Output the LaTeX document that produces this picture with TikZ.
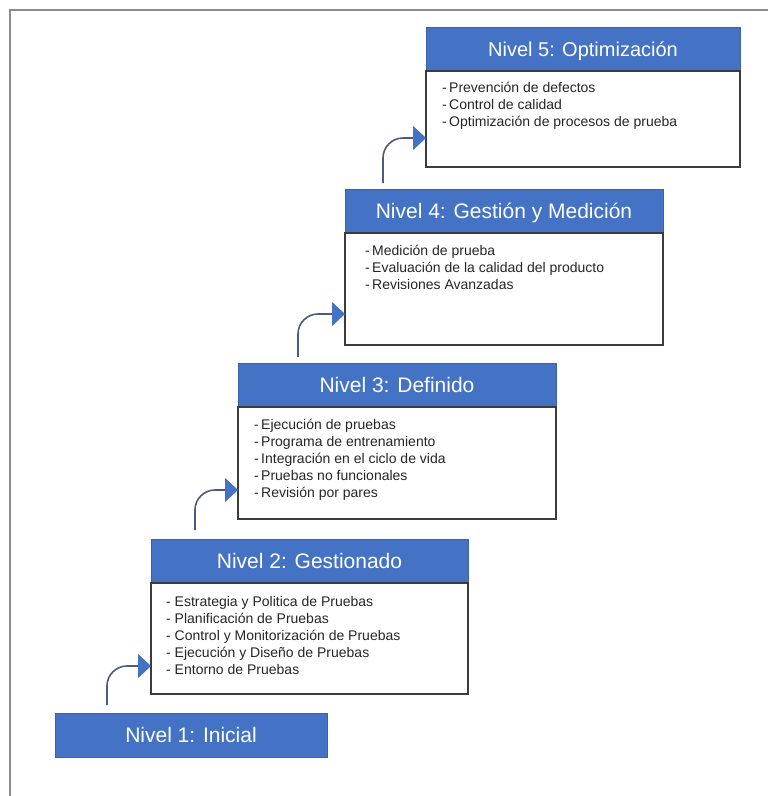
\documentclass[tikz,border=0pt]{standalone}
\usepackage{fontspec}
\setmainfont{Liberation Sans}
\usetikzlibrary{arrows.meta,calc}

\definecolor{hdrblue}{HTML}{4472C4}
\definecolor{hdredge}{HTML}{3A62AB}
\definecolor{connline}{HTML}{4A5B7C}
\definecolor{boxedge}{HTML}{3C3C3C}
\definecolor{framegray}{HTML}{8C8C8C}
\definecolor{itemtext}{HTML}{262626}

\begin{document}
\begin{tikzpicture}[x=1pt,y=-1pt,
  header/.style={draw=hdredge, line width=0.8pt, fill=hdrblue, text=white,
    inner sep=0pt, outer sep=0pt, anchor=north west,
    minimum width=#1, minimum height=44pt,
    font=\fontsize{21}{25}\selectfont, text height=15pt, text depth=0pt},
  body/.style={draw=boxedge, line width=1.3pt, fill=white, inner sep=0pt,
    outer sep=0pt, anchor=north west, minimum width=#1},
  items/.style={anchor=base west, inner sep=0pt, text=itemtext,
    font=\fontsize{14}{17}\selectfont},
  conn/.style={draw=connline, line width=1.6pt, rounded corners=20pt,
    -{Triangle[length=13pt,width=24pt,color=hdrblue,fill=hdrblue]}}
]
\useasboundingbox (0,0) rectangle (768,796);

% outer frame (top and left edges)
\draw[framegray, line width=1.5pt] (10,796) -- (10,10) -- (768,10);

% Nivel 5
\node[header=314pt, font=\fontsize{20}{24}\selectfont] (h5) at (426,27) {Nivel 5: Optimización};
\node[body=314pt, minimum height=96pt] (b5) at (h5.south west) {};
\node[items] (t5) at ($(b5.north west)+(16,21)$) {\begin{tabular}[t]{@{}l@{}}
-\,Prevención de defectos\\
-\,Control de calidad\\
-\,Optimización de procesos de prueba
\end{tabular}};

% Nivel 4
\node[header=318pt] (h4) at (345,189) {Nivel 4: Gestión y Medición};
\node[body=318pt, minimum height=112pt] (b4) at (h4.south west) {};
\node[items] (t4) at ($(b4.north west)+(20,22)$) {\begin{tabular}[t]{@{}l@{}}
-\,Medición de prueba\\
-\,Evaluación de la calidad del producto\\
-\,Revisiones Avanzadas
\end{tabular}};

% Nivel 3
\node[header=318pt] (h3) at (238,363) {Nivel 3: Definido};
\node[body=318pt, minimum height=112pt] (b3) at (h3.south west) {};
\node[items] (t3) at ($(b3.north west)+(16,22)$) {\begin{tabular}[t]{@{}l@{}}
-\,Ejecución de pruebas\\
-\,Programa de entrenamiento\\
-\,Integración en el ciclo de vida\\
-\,Pruebas no funcionales\\
-\,Revisión por pares
\end{tabular}};

% Nivel 2
\node[header=317pt] (h2) at (151,539) {Nivel 2: Gestionado};
\node[body=317pt, minimum height=111pt] (b2) at (h2.south west) {};
\node[items] (t2) at ($(b2.north west)+(15,23)$) {\begin{tabular}[t]{@{}l@{}}
- Estrategia y Politica de Pruebas\\
- Planificación de Pruebas\\
- Control y Monitorización de Pruebas\\
- Ejecución y Diseño de Pruebas\\
- Entorno de Pruebas
\end{tabular}};

% Nivel 1
\node[header=272pt] (h1) at (55,713) {Nivel 1: Inicial};

% step connectors
\coordinate (s1) at (107,705);
\coordinate (s2) at (195,530);
\coordinate (s3) at (298,357);
\coordinate (s4) at (383,183);
\draw[conn] (s1) |- ($(b2.south west)+(0,-28)$);
\draw[conn] (s2) |- ($(b3.south west)+(0,-29)$);
\draw[conn] (s3) |- ($(b4.south west)+(0,-31)$);
\draw[conn] (s4) |- ($(b5.south west)+(0,-29)$);
\end{tikzpicture}
\end{document}
